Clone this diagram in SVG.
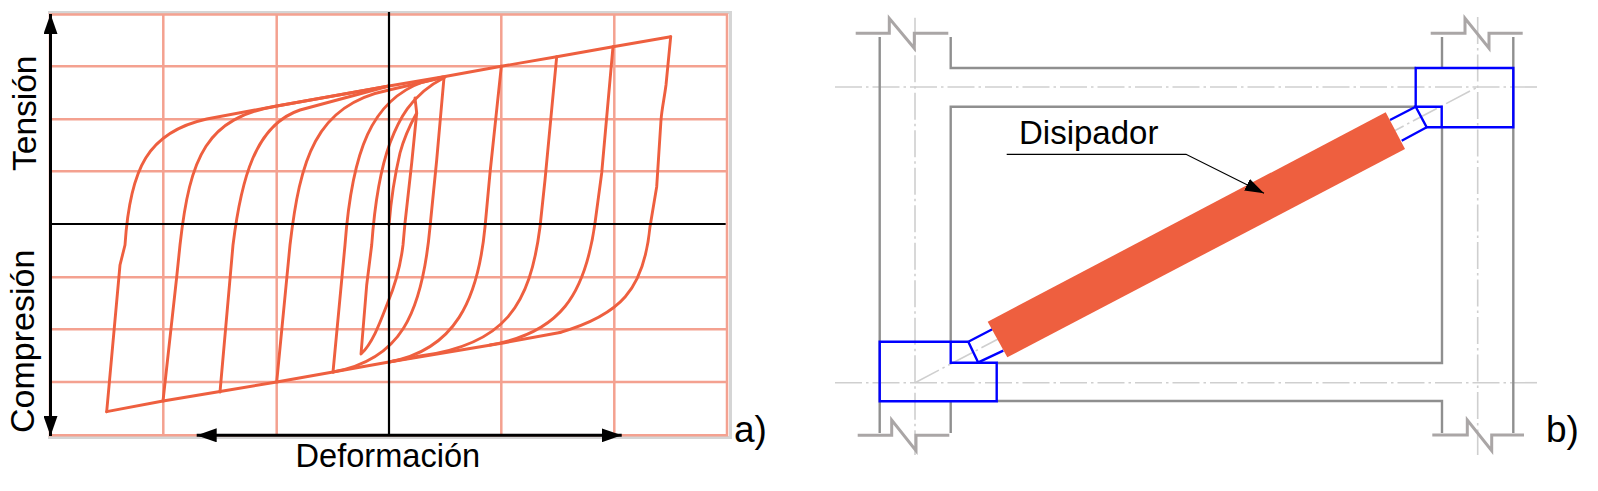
<svg xmlns="http://www.w3.org/2000/svg" width="1598" height="491" viewBox="0 0 1598 491">
<style>
text{font-family:"Liberation Sans",Arial,sans-serif;fill:#000}
.grid{stroke:#f4a190;stroke-width:2.5;fill:none}
.hys{stroke:#ee5f3f;stroke-width:2.9;fill:none;stroke-linejoin:round;stroke-linecap:round}
.ax{stroke:#000;fill:none}
.st{stroke:#8f8f8f;stroke-width:2.4;fill:none}
.brk{stroke:#aaa6a6;stroke-width:3;fill:none}
.cl{stroke:#cfcfcf;stroke-width:1.6;fill:none;stroke-dasharray:27 4 2.5 4}
.bl{stroke:#0000ff;stroke-width:2.4;fill:none;stroke-linejoin:miter}
</style>
<defs>
<marker id="ah" markerUnits="userSpaceOnUse" markerWidth="20" markerHeight="14" refX="20" refY="7" orient="auto-start-reverse"><path d="M0,0L20,7L0,14Z" fill="#000"/></marker>
<marker id="ah2" markerUnits="userSpaceOnUse" markerWidth="19" markerHeight="13" refX="19" refY="6.5" orient="auto"><path d="M0,0L19,6.5L0,13Z" fill="#000"/></marker>
</defs>
<g id="chart-a">
<path d="M48,12.5L730.5,12.5L730.5,437.5L48,437.5" fill="none" stroke="#d5d5d5" stroke-width="3"/>
<path class="grid" d="M50,14.5H727V435.3H50ZM50,66.3H727M50,119.3H727M50,171.3H727M50,277.3H727M50,329.3H727M50,382H727M163.3,14V435M276.7,14V435M501.3,14V435M614.3,14V435"/>
<g id="hysteresis">
<path class="hys" d="M106.7,411.7L163,401L220,391.5L276.7,382L333,372L389,362L503,343L560,332.5"/>
<path class="hys" d="M389,86L445,76.5L501.3,66.3L556.7,56.7L613,46.7L670.7,36.7"/>
<path class="hys" d="M670.7,36.7L666,85C664,100 662,108 661,120L656.7,186.7L650,226.7C644,290 620,315 560,332.5"/>
<path class="hys" d="M613,46.7L601.7,173L595,223C585,295 560,333 490,345"/>
<path class="hys" d="M556.7,56.7L545,180L540,227C530,305 505,345 420,356L389,362"/>
<path class="hys" d="M501.3,66.3L490,173L485,227C478,300 455,350 389,362"/>
<path class="hys" d="M444,77.7L436.7,160L430,227C422,315 400,360 333,372"/>
<path class="hys" d="M416.7,113L411.7,163L405,223L403,245C400,270 393,290 388,302C381,320 373,343 361,354L366.7,285L371.7,245C375,200 380,170 390,143C398,122 410,95 444,77.7"/>
<path class="hys" d="M389,225C391,200 396,170 400,153C404,138 410,125 416.7,113L415,98"/>
<path class="hys" d="M106.7,411.7L120,265L125,245C130,168 148,132 206.7,119L276.7,106L389,86"/>
<path class="hys" d="M163,401L176.7,277L180,245C190,155 207,118 277,106L389,86"/>
<path class="hys" d="M220,392L233,245C241,180 255,125 300,110L389,86"/>
<path class="hys" d="M276.7,382L290,245C300,160 315,105 389,90L445,77"/>
<path class="hys" d="M333,372L345,245C352,150 372,100 423,82L443,77"/>
</g>
<path class="ax" stroke-width="2.2" d="M389,12V436"/>
<path class="ax" stroke-width="2" d="M50,224H725.7"/>
<path class="ax" stroke-width="3" d="M50.5,14V436" marker-start="url(#ah)" marker-end="url(#ah)"/>
<path class="ax" stroke-width="3" d="M196.7,435.3H621.7" marker-start="url(#ah)" marker-end="url(#ah)"/>
<text transform="translate(36,171) rotate(-90)" font-size="33.5">Tensión</text>
<text transform="translate(33.5,433) rotate(-90)" font-size="34">Compresión</text>
<text x="295.5" y="466.7" font-size="32.6">Deformación</text>
<text x="734" y="441.7" font-size="37">a)</text>
</g>
<g id="frame-b">
<g id="centerlines">
<path class="cl" d="M835,87H1538"/>
<path class="cl" d="M835,382.7H1537"/>
<path class="cl" d="M915,17.7V455"/>
<path class="cl" d="M1477.7,17V455"/>
<path class="cl" d="M915,382.7L1477.7,87"/>
</g>
<g id="structure">
<path class="st" d="M879.7,37V433"/>
<path class="st" d="M950.7,37V68H1416"/>
<path class="st" d="M950.7,342V106.7H1416"/>
<path class="st" d="M996.7,363H1442V127"/>
<path class="st" d="M996.7,401H1442V433"/>
<path class="st" d="M1442,37V68"/>
<path class="st" d="M1513.3,37V433"/>
<path class="st" d="M950.7,401V433"/>
<path class="brk" d="M855.7,33.3H889.3V18.3L914.3,48.3V33.3H948.3"/>
<path class="brk" d="M1430.7,33.3H1465V18.3L1489,48.3V33.3H1522.7"/>
<path class="brk" d="M857.7,435.3H891.7V420L916,450.7V435.3H949.3"/>
<path class="brk" d="M1432.3,435H1467.3V420L1491.7,450.7V435H1524"/>
</g>
<g id="connection-ll">
<path class="bl" d="M968.3,341.7H879.7V401.3H996.7V362.7H950.7V341.7M968.3,341.7L978.3,362.7"/>
<path class="bl" d="M968.3,341.7L992.3,329.3M978.3,362.3L1003.3,350.7"/>
</g>
<g id="connection-ur">
<path class="bl" d="M1415.7,106.7V68H1513.3V127.3H1426.7L1415.7,106.7H1441.7V127.3"/>
<path class="bl" d="M1415.7,106.7L1390,120M1426.7,127.3L1401.7,140.7"/>
</g>
<g id="disipador">
<polygon points="987.7,321.7 1385.7,112.3 1405,149 1007.3,357.3" fill="#ee5f3f"/>
<path d="M1006.7,154.3H1186L1264,193.3" fill="none" stroke="#000" stroke-width="1.2" marker-end="url(#ah2)"/>
<text x="1019" y="144.3" font-size="33">Disipador</text>
</g>
<text x="1546" y="441.7" font-size="37">b)</text>
</g>
</svg>
